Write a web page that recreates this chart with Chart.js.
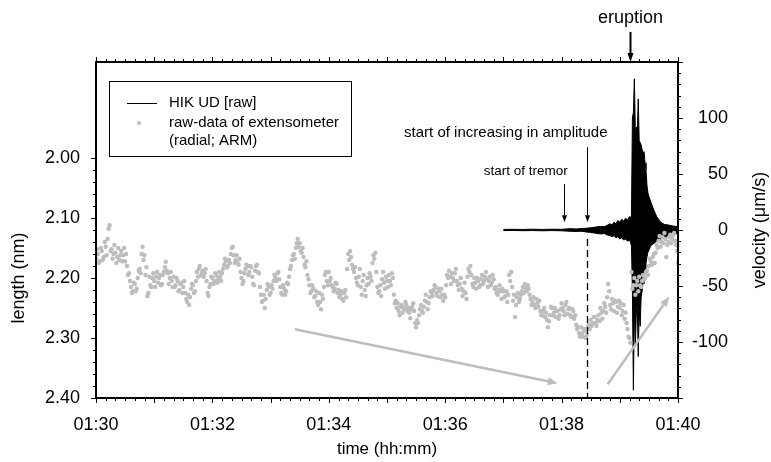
<!DOCTYPE html>
<html>
<head>
<meta charset="utf-8">
<title>HIK UD velocity and extensometer length</title>
<script src="https://cdn.jsdelivr.net/npm/chart.js@4.4.1/dist/chart.umd.min.js"></script>
<style>
  html, body { margin: 0; padding: 0; background: #fff; }
  canvas { display: block; }
</style>
</head>
<body>
<canvas id="chart" width="771" height="462"></canvas>
<script>
// time is counted in seconds after 01:30:00
const timeTicks = [0, 120, 240, 360, 480, 600];
const lengthTicks = [2.00, 2.10, 2.20, 2.30, 2.40];
const velocityTicks = [-100, -50, 0, 50, 100];

// extensometer (radial; ARM), one sample per second, nm
const extStep = 1;
const extLength = [
  2.168, 2.152, 2.160, 2.175, 2.172, 2.150, 2.155, 2.170, 2.165, 2.140,
  2.148, 2.162, 2.135, 2.118, 2.112, 2.155, 2.152, 2.168, 2.160, 2.145,
  2.158, 2.175, 2.165, 2.150, 2.170, 2.162, 2.155, 2.172, 2.162, 2.150,
  2.172, 2.160, 2.180, 2.195, 2.192, 2.205, 2.215, 2.225, 2.222, 2.208,
  2.210, 2.222, 2.218, 2.200, 2.188, 2.185, 2.192, 2.160, 2.148, 2.170,
  2.162, 2.195, 2.182, 2.230, 2.225, 2.198, 2.212, 2.215, 2.200, 2.192,
  2.205, 2.215, 2.198, 2.190, 2.208, 2.200, 2.195, 2.212, 2.210, 2.195,
  2.190, 2.182, 2.173, 2.188, 2.192, 2.210, 2.200, 2.190, 2.205, 2.215,
  2.198, 2.215, 2.212, 2.200, 2.205, 2.222, 2.220, 2.210, 2.208, 2.225,
  2.215, 2.205, 2.225, 2.235, 2.240, 2.228, 2.245, 2.232, 2.218, 2.210,
  2.212, 2.225, 2.222, 2.205, 2.190, 2.198, 2.185, 2.180, 2.196, 2.192,
  2.188, 2.198, 2.192, 2.185, 2.205, 2.225, 2.230, 2.215, 2.210, 2.198,
  2.200, 2.210, 2.205, 2.192, 2.196, 2.208, 2.202, 2.190, 2.198, 2.205,
  2.192, 2.185, 2.178, 2.168, 2.172, 2.182, 2.180, 2.170, 2.175, 2.160,
  2.150, 2.148, 2.162, 2.175, 2.170, 2.162, 2.175, 2.178, 2.168, 2.190,
  2.200, 2.210, 2.205, 2.192, 2.185, 2.178, 2.180, 2.195, 2.190, 2.180,
  2.182, 2.198, 2.210, 2.212, 2.188, 2.180, 2.178, 2.190, 2.192, 2.215,
  2.228, 2.240, 2.238, 2.228, 2.250, 2.235, 2.220, 2.210, 2.215, 2.228,
  2.225, 2.212, 2.218, 2.205, 2.195, 2.200, 2.205, 2.192, 2.190, 2.202,
  2.215, 2.225, 2.228, 2.212, 2.218, 2.228, 2.222, 2.208, 2.210, 2.198,
  2.185, 2.180, 2.170, 2.162, 2.160, 2.168, 2.150, 2.142, 2.135, 2.148,
  2.142, 2.155, 2.158, 2.150, 2.165, 2.178, 2.182, 2.172, 2.195, 2.202,
  2.212, 2.225, 2.222, 2.212, 2.218, 2.232, 2.230, 2.222, 2.240, 2.245,
  2.225, 2.240, 2.252, 2.228, 2.235, 2.215, 2.195, 2.190, 2.205, 2.212,
  2.190, 2.205, 2.200, 2.212, 2.215, 2.222, 2.218, 2.208, 2.210, 2.225,
  2.220, 2.232, 2.228, 2.222, 2.235, 2.238, 2.225, 2.220, 2.232, 2.185,
  2.160, 2.170, 2.155, 2.165, 2.178, 2.185, 2.190, 2.182, 2.200, 2.208,
  2.212, 2.198, 2.185, 2.215, 2.228, 2.205, 2.195, 2.220, 2.230, 2.212,
  2.200, 2.210, 2.192, 2.198, 2.205, 2.175, 2.162, 2.168, 2.158, 2.190,
  2.215, 2.225, 2.222, 2.212, 2.230, 2.202, 2.190, 2.208, 2.218, 2.198,
  2.205, 2.215, 2.195, 2.205, 2.212, 2.192, 2.200, 2.228, 2.242, 2.238,
  2.250, 2.242, 2.255, 2.262, 2.248, 2.245, 2.258, 2.250, 2.252, 2.240,
  2.245, 2.255, 2.250, 2.258, 2.267, 2.252, 2.248, 2.242, 2.255, 2.275,
  2.282, 2.270, 2.275, 2.262, 2.252, 2.245, 2.255, 2.258, 2.248, 2.238,
  2.228, 2.240, 2.252, 2.242, 2.232, 2.222, 2.225, 2.230, 2.220, 2.212,
  2.215, 2.225, 2.230, 2.218, 2.222, 2.232, 2.218, 2.228, 2.238, 2.228,
  2.232, 2.212, 2.195, 2.200, 2.188, 2.198, 2.210, 2.192, 2.200, 2.205,
  2.192, 2.185, 2.205, 2.212, 2.220, 2.210, 2.200, 2.218, 2.230, 2.222,
  2.208, 2.225, 2.235, 2.198, 2.185, 2.190, 2.180, 2.195, 2.210, 2.215,
  2.200, 2.208, 2.218, 2.200, 2.205, 2.215, 2.212, 2.202, 2.195, 2.210,
  2.205, 2.198, 2.190, 2.202, 2.215, 2.205, 2.198, 2.212, 2.208, 2.195,
  2.202, 2.218, 2.215, 2.225, 2.228, 2.220, 2.212, 2.222, 2.235, 2.218,
  2.222, 2.232, 2.230, 2.222, 2.240, 2.228, 2.195, 2.205, 2.190, 2.215,
  2.238, 2.228, 2.265, 2.245, 2.232, 2.225, 2.240, 2.235, 2.228, 2.222,
  2.215, 2.225, 2.210, 2.218, 2.222, 2.212, 2.218, 2.228, 2.235, 2.245,
  2.240, 2.232, 2.245, 2.250, 2.235, 2.242, 2.248, 2.238, 2.255, 2.262,
  2.262, 2.255, 2.250, 2.265, 2.258, 2.270, 2.282, 2.272, 2.262, 2.248,
  2.250, 2.262, 2.258, 2.250, 2.265, 2.255, 2.255, 2.268, 2.262, 2.252,
  2.242, 2.250, 2.255, 2.262, 2.245, 2.240, 2.260, 2.252, 2.250, 2.262,
  2.265, 2.252, 2.255, 2.268, 2.262, 2.278, 2.285, 2.282, 2.292, 2.298,
  2.282, 2.292, 2.298, 2.285, 2.288, 2.300, 2.295, 2.282, 2.278, 2.285,
  2.270, 2.280, 2.275, 2.265, 2.265, 2.275, 2.280, 2.270, 2.262, 2.272,
  2.250, 2.258, 2.268, 2.255, 2.242, 2.248, 2.258, 2.232, 2.210, 2.222,
  2.245, 2.252, 2.235, 2.242, 2.255, 2.238, 2.240, 2.258, 2.248, 2.238,
  2.250, 2.242, 2.262, 2.255, 2.245, 2.268, 2.258, 2.275, 2.285, 2.298,
  2.300, 2.308, 2.190, 2.218, 2.212, 2.200, 2.228, 2.212, 2.205, 2.222,
  2.198, 2.212, 2.215, 2.205, 2.195, 2.202, 2.200, 2.190, 2.188, 2.195,
  2.180, 2.168, 2.172, 2.178, 2.165, 2.160, 2.175, 2.158, 2.145, 2.150,
  2.138, 2.130, 2.148, 2.140, 2.132, 2.142, 2.125, 2.135, 2.165, 2.145,
  2.140, 2.132, 2.128, 2.142, 2.135, 2.128, 2.125, 2.138, 2.145, 2.155,
  2.175
];

// HIK UD [raw] seismogram, upper / lower envelope, µm/s
const velTime = [420, 430, 440, 450, 460, 470, 480,
  485, 490, 495, 500, 505,
  510, 515, 520, 524, 527,
  530, 532, 534, 536, 538, 540, 542, 544, 546, 548, 550,
  551,
  552, 553, 554, 555, 556, 557, 558, 559, 560, 561, 562, 563, 564, 565, 566, 567, 568, 569, 570,
  572, 575, 578, 582, 586, 590, 595, 600];
const velUpper = [0.5, 0.6, 0.5, 0.7, 0.5, 0.7, 0.6,
  1.0, 1.2, 0.9, 1.3, 1.5,
  2.0, 2.6, 3.2, 3.0, 4.2,
  5.5, 4.5, 7.0, 5.5, 8.5, 7.0, 9.5, 8.0, 10.5, 9.0, 12.0,
  10.5,
  13, 100, 105, 135, 90, 92, 85, 117, 80, 78, 76, 72, 68, 70, 60, 54, 40, 33, 30,
  25, 18, 12, 7, 5, 4.5, 3.5, 3];
const velLower = [-0.5, -0.4, -0.6, -0.5, -0.7, -0.5, -0.7,
  -1.0, -1.2, -1.4, -1.1, -1.7,
  -2.2, -2.8, -3.5, -3.2, -4.5,
  -5.0, -6.0, -5.0, -7.0, -6.0, -8.0, -7.0, -9.0, -8.0, -10.0, -9.0,
  -11,
  -14, -55, -143, -70, -104, -75, -65, -113, -70, -86, -60, -55, -45, -48, -35, -30, -24, -20, -18,
  -14, -12, -10, -8, -7, -5, -4, -3];

// event markers, s after 01:30:00
const tremorStart = 482.5;
const amplitudeStart = 506;
const eruptionTime = 551;

// trend arrows over the extensometer record, [time s, length nm]
const trendArrows = [
  { from: [205, 2.2855], to: [476, 2.3755] },
  { from: [527.5, 2.377], to: [591, 2.231] }
];

const FONT = "'Liberation Sans', Arial, Helvetica, sans-serif";
const DOT_GREY = '#bdbdbd';

function fmtTime(sec) {
  const m = 30 + Math.round(sec / 60);
  return '01:' + String(m).padStart(2, '0');
}

function drawArrow(ctx, x1, y1, x2, y2, head, halfWidth, lineWidth, color) {
  const a = Math.atan2(y2 - y1, x2 - x1);
  const bx = x2 - head * Math.cos(a);
  const by = y2 - head * Math.sin(a);
  ctx.strokeStyle = color;
  ctx.fillStyle = color;
  ctx.lineWidth = lineWidth;
  ctx.beginPath();
  ctx.moveTo(x1, y1);
  ctx.lineTo(bx, by);
  ctx.stroke();
  ctx.beginPath();
  ctx.moveTo(x2, y2);
  ctx.lineTo(bx + halfWidth * Math.sin(a), by - halfWidth * Math.cos(a));
  ctx.lineTo(bx - halfWidth * Math.sin(a), by + halfWidth * Math.cos(a));
  ctx.closePath();
  ctx.fill();
}

// frame, minor/major ticks on all four sides, titles, notes and legend
const decorPlugin = {
  id: 'decor',
  afterDraw(chart) {
    const { ctx, chartArea: a, scales } = chart;
    const sx = scales.x, sL = scales.yLen, sV = scales.yVel;
    ctx.save();

    // tick marks
    ctx.strokeStyle = '#000';
    ctx.lineWidth = 1;
    ctx.beginPath();
    for (let t = 0; t <= 600; t += 10) {
      const px = Math.round(sx.getPixelForValue(t)) + 0.5;
      const len = t % 60 === 0 ? 5 : 3;
      ctx.moveTo(px, a.bottom); ctx.lineTo(px, a.bottom + len);
      ctx.moveTo(px, a.top); ctx.lineTo(px, a.top - len);
    }
    for (let i = 0; i <= 20; i++) {
      const py = Math.round(sL.getPixelForValue(2 + i * 0.02)) + 0.5;
      const len = i % 5 === 0 ? 5 : 3;
      ctx.moveTo(a.left, py); ctx.lineTo(a.left - len, py);
    }
    for (let v = -150; v <= 150; v += 10) {
      const py = Math.round(sV.getPixelForValue(v)) + 0.5;
      const len = v % 50 === 0 ? 5 : 3;
      ctx.moveTo(a.right, py); ctx.lineTo(a.right + len, py);
    }
    ctx.stroke();

    ctx.lineWidth = 2;
    ctx.strokeRect(a.left, a.top, a.right - a.left, a.bottom - a.top);

    // axis titles on the two y axes
    ctx.fillStyle = '#000';
    ctx.font = '18px ' + FONT;
    ctx.textAlign = 'center';
    ctx.textBaseline = 'middle';
    ctx.save();
    ctx.translate(19, (sL.getPixelForValue(2.0) + sL.getPixelForValue(2.4)) / 2);
    ctx.rotate(-Math.PI / 2);
    ctx.fillText('length (nm)', 0, 0);
    ctx.restore();
    ctx.save();
    ctx.translate(760, (a.top + a.bottom) / 2);
    ctx.rotate(-Math.PI / 2);
    ctx.fillText('velocity (μm/s)', 0, 0);
    ctx.restore();

    // trend arrows
    trendArrows.forEach(ar => {
      drawArrow(ctx,
        sx.getPixelForValue(ar.from[0]), sL.getPixelForValue(ar.from[1]),
        sx.getPixelForValue(ar.to[0]), sL.getPixelForValue(ar.to[1]),
        10, 4, 2.5, '#bdbdbd');
    });

    // dashed marker at the start of the amplitude increase
    const xa = Math.round(sx.getPixelForValue(amplitudeStart)) + 0.5;
    ctx.strokeStyle = '#000';
    ctx.lineWidth = 1.3;
    ctx.setLineDash([7, 4]);
    ctx.beginPath();
    ctx.moveTo(xa, sV.getPixelForValue(-8));
    ctx.lineTo(xa, a.bottom);
    ctx.stroke();
    ctx.setLineDash([]);

    // event notes
    const xt = Math.round(sx.getPixelForValue(tremorStart)) + 0.5;
    drawArrow(ctx, xt, sV.getPixelForValue(41), xt, sV.getPixelForValue(7), 7, 2.5, 1, '#000');
    drawArrow(ctx, xa, sV.getPixelForValue(74), xa, sV.getPixelForValue(7), 7, 2.5, 1, '#000');
    ctx.fillStyle = '#000';
    ctx.textBaseline = 'middle';
    ctx.textAlign = 'center';
    ctx.font = '15px ' + FONT;
    ctx.fillText('start of increasing in amplitude', sx.getPixelForValue(422.5), sV.getPixelForValue(86.5));
    ctx.font = '13.5px ' + FONT;
    ctx.fillText('start of tremor', sx.getPixelForValue(443), sV.getPixelForValue(52));

    const xe = Math.round(sx.getPixelForValue(eruptionTime)) + 0.5;
    drawArrow(ctx, xe, a.top - 30, xe, a.top, 9, 3, 2, '#000');
    ctx.font = '18px ' + FONT;
    ctx.fillText('eruption', xe, a.top - 44);

    // legend
    ctx.lineWidth = 1;
    ctx.strokeStyle = '#000';
    ctx.strokeRect(109.5, 81.5, 242, 75);
    ctx.beginPath();
    ctx.moveTo(127, 103.5);
    ctx.lineTo(157, 103.5);
    ctx.stroke();
    ctx.fillStyle = DOT_GREY;
    ctx.beginPath();
    ctx.arc(139, 123, 2, 0, Math.PI * 2);
    ctx.fill();
    ctx.fillStyle = '#000';
    ctx.textAlign = 'left';
    ctx.font = '15px ' + FONT;
    ctx.fillText('HIK UD [raw]', 169, 103);
    ctx.fillText('raw-data of extensometer', 169, 123);
    ctx.fillText('(radial; ARM)', 169, 141);

    ctx.restore();
  }
};

const extPoints = extLength.map((v, i) => ({ x: i * extStep, y: v }));
const upperPoints = velTime.map((t, i) => ({ x: t, y: velUpper[i] }));
const lowerPoints = velTime.map((t, i) => ({ x: t, y: velLower[i] }));

const tickFont = { family: FONT, size: 18 };

new Chart(document.getElementById('chart'), {
  type: 'scatter',
  data: {
    datasets: [
      {
        label: 'raw-data of extensometer',
        data: extPoints,
        yAxisID: 'yLen',
        pointRadius: 2.2,
        pointBorderWidth: 0,
        pointBackgroundColor: DOT_GREY,
        order: 0
      },
      {
        label: 'HIK UD [raw]',
        type: 'line',
        data: upperPoints,
        yAxisID: 'yVel',
        borderColor: '#000',
        borderWidth: 1,
        pointRadius: 0,
        tension: 0,
        fill: false,
        order: 1
      },
      {
        label: 'HIK UD [raw] lower',
        type: 'line',
        data: lowerPoints,
        yAxisID: 'yVel',
        borderColor: '#000',
        borderWidth: 1,
        backgroundColor: '#000',
        pointRadius: 0,
        tension: 0,
        fill: '-1',
        order: 1
      }
    ]
  },
  options: {
    responsive: false,
    animation: false,
    events: [],
    layout: { padding: { top: 62, right: 43, bottom: 0, left: 0 } },
    plugins: {
      legend: { display: false },
      tooltip: { enabled: false }
    },
    scales: {
      x: {
        type: 'linear',
        position: 'bottom',
        min: 0,
        max: 600,
        grid: { display: false, drawTicks: false },
        border: { display: false },
        afterBuildTicks: s => { s.ticks = timeTicks.map(v => ({ value: v })); },
        afterFit: s => { s.height = 64; },
        ticks: {
          color: '#000',
          font: tickFont,
          padding: 16,
          maxRotation: 0,
          callback: v => fmtTime(v)
        },
        title: {
          display: true,
          text: 'time (hh:mm)',
          color: '#000',
          font: { family: FONT, size: 17 },
          padding: { top: 0, bottom: 2 }
        }
      },
      yLen: {
        type: 'linear',
        position: 'left',
        reverse: true,
        min: 1.84,
        max: 2.40,
        grid: { display: false, drawTicks: false },
        border: { display: false },
        afterBuildTicks: s => { s.ticks = lengthTicks.map(v => ({ value: v })); },
        afterFit: s => { s.width = 96; },
        ticks: {
          color: '#000',
          font: tickFont,
          padding: 16,
          callback: v => v.toFixed(2)
        }
      },
      yVel: {
        type: 'linear',
        position: 'right',
        min: -150,
        max: 150,
        grid: { display: false, drawTicks: false },
        border: { display: false },
        afterBuildTicks: s => { s.ticks = velocityTicks.map(v => ({ value: v })); },
        afterFit: s => { s.width = 50; },
        ticks: {
          color: '#000',
          font: tickFont,
          crossAlign: 'far',
          callback: v => String(v)
        }
      }
    }
  },
  plugins: [decorPlugin]
});
</script>
</body>
</html>
